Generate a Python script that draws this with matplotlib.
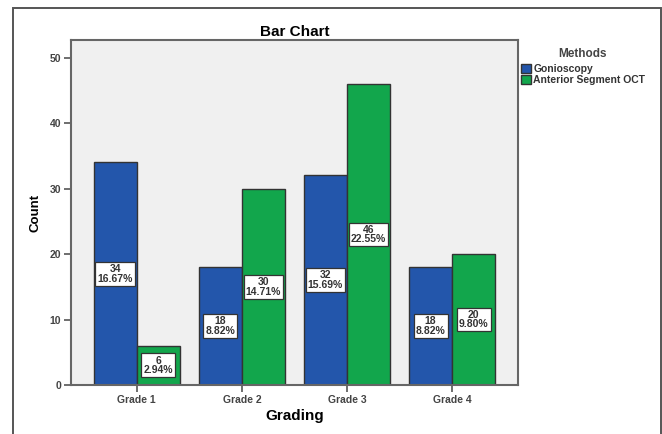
import numpy as np
import matplotlib
matplotlib.use('Agg')
import matplotlib.pyplot as plt
from matplotlib.patches import Rectangle

plt.rcParams['font.family'] = ['Liberation Sans', 'DejaVu Sans']

grades = ['Grade 1', 'Grade 2', 'Grade 3', 'Grade 4']
gonioscopy = [34, 18, 32, 18]
as_oct = [6, 30, 46, 20]
methods = ['Gonioscopy', 'Anterior Segment OCT']
colors = ['#2356ab', '#12a64c']

total = sum(gonioscopy) + sum(as_oct)

fig = plt.figure(figsize=(6.62, 4.34), dpi=100)
fig.patch.set_facecolor('white')
# outer chart frame
fig.patches.append(Rectangle((13 / 662, -0.05), 648 / 662, 1.0316,
                             transform=fig.transFigure, fill=False,
                             edgecolor='#555555', linewidth=1.4))

ax = fig.add_axes([0.1073, 0.1129, 0.675, 0.795])
ax.set_facecolor('#f0f0f0')

x = np.arange(len(grades))
w = 0.41
for vals, off, col, name in [(gonioscopy, -w / 2, colors[0], methods[0]),
                             (as_oct, w / 2, colors[1], methods[1])]:
    bars = ax.bar(x + off, vals, w, color=col, edgecolor='#333333',
                  linewidth=1.0, label=name, zorder=2)
    for b, v in zip(bars, vals):
        ax.text(b.get_x() + b.get_width() / 2, v / 2,
                f'{v}\n{v / total * 100:.2f}%', ha='center', va='center',
                fontsize=7.5, fontweight='bold', linespacing=0.95,
                color='#333333', zorder=3,
                bbox=dict(boxstyle='square,pad=0.2', facecolor='white',
                          edgecolor='#333333', linewidth=0.9))

ax.set_xlim(-0.625, 3.625)
ax.set_ylim(0, 52.7)
ax.set_xticks(x)
ax.set_xticklabels(grades, fontsize=7.5, fontweight='bold', color='#444444')
ax.set_yticks([0, 10, 20, 30, 40, 50])
ax.set_yticklabels(['0', '10', '20', '30', '40', '50'], fontsize=7.5,
                   fontweight='bold', color='#444444')
ax.tick_params(length=5, width=1.2, color='#555555', pad=2)
for s in ax.spines.values():
    s.set_color('#666666')
    s.set_linewidth(1.5)

ax.set_title('Bar Chart', fontsize=11, fontweight='bold', pad=3)
ax.set_xlabel('Grading', fontsize=11, fontweight='bold', labelpad=3)
ax.set_ylabel('Count', fontsize=9.5, fontweight='bold', labelpad=6)

leg = ax.legend(title='Methods', loc='upper left', bbox_to_anchor=(0.997, 0.99),
                frameon=False, fontsize=7.5,
                title_fontproperties={'weight': 'bold', 'size': 8.5},
                handlelength=1.0, handleheight=1.0, handletextpad=0.2,
                labelspacing=0.05, borderaxespad=0.0)
leg._legend_box.sep = 3
for t in leg.get_texts():
    t.set_fontweight('bold')
    t.set_color('#333333')
leg.get_title().set_color('#444444')

fig.savefig('out.png', dpi=100)
